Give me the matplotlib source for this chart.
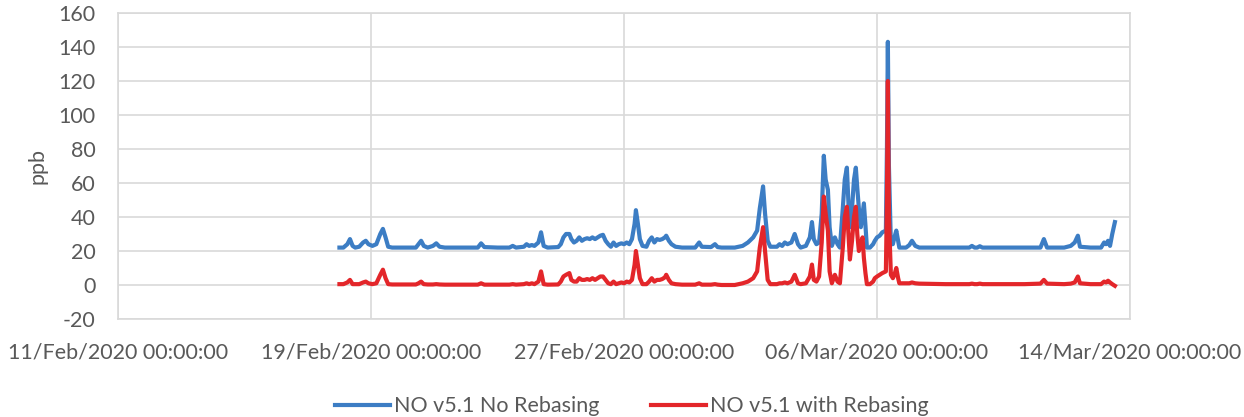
import numpy as np
import pandas as pd
import matplotlib
matplotlib.use("Agg")
import matplotlib.pyplot as plt
import matplotlib.dates as mdates

# Hours since 18/Feb/2020 00:00 and the two NO series (ppb)
hours = [0, 3, 6, 8, 10, 12, 15, 18, 20, 22, 25, 28, 31, 33, 35, 37, 40, 50, 58, 60,
         62, 64, 67, 71, 73.5, 76, 80, 95, 105, 107.5, 110, 120, 129, 131.5, 134, 140,
         142, 144, 146, 148, 151, 153, 155, 158, 166, 168, 170, 172, 174.5, 176, 178,
         180, 182, 184, 186, 188, 190, 192, 194, 196, 198, 200, 202, 204, 206, 208,
         210, 212, 214, 216, 218, 220, 222, 224, 225, 226.5, 228, 230, 233, 235, 237,
         239, 241, 243, 245, 247, 248, 250, 252, 255, 260, 270, 273, 275, 282, 285,
         287, 290, 300, 306, 310, 314, 317, 319, 321.5, 323, 325, 327, 332, 334, 336,
         338, 340, 343, 345.5, 348, 350, 354, 357, 358.6, 360, 362, 364, 366, 367.6,
         369, 370.7, 372, 373.7, 376, 378, 379.8, 382, 383.5, 385.1, 386.3, 387.4,
         389, 390.5, 391.9, 393, 394.2, 395.7, 397, 398, 399.2, 400.3, 402.6, 405,
         406.3, 408, 410, 412, 414.7, 415.5, 416.2, 417, 418.5, 420, 421.2, 422.6,
         424, 424.9, 430, 432.5, 434.5, 437, 440, 460, 478, 480, 482, 484, 486, 488,
         500, 520, 532, 534.6, 537, 550, 555, 558, 560.4, 562, 570, 578, 580.3, 581.8,
         583.3, 584.8, 586.5, 588.5]

no_rebase = [22, 22, 24, 27, 23, 22, 22.5, 25, 26, 24, 23, 24, 30, 33, 28, 22.5, 22, 22,
             22, 24, 26, 23, 22, 23, 24.5, 22.5, 22, 22, 22, 24.5, 22.3, 22, 22, 23, 22,
             22.5, 24, 23, 23.5, 23, 25, 31, 23, 22, 22.3, 24, 28, 30, 30, 27, 25, 26, 28,
             26, 27, 27.5, 27, 28, 27, 28, 29, 29.5, 26, 24, 22.5, 25, 23, 24, 24.5, 24,
             25, 24, 27, 36, 44, 36, 27, 23, 22.5, 26, 28, 25, 27, 26.5, 27, 28, 29, 26,
             24, 22.5, 22, 22, 25, 22.5, 22.3, 24, 22.3, 22, 22, 23, 25, 28, 32, 45, 58,
             42, 26, 22.5, 22.5, 24, 23, 25, 24, 25, 30, 24, 22, 23, 28, 37, 27, 24, 25,
             42, 76, 62, 56, 34, 23, 28, 24, 22, 45, 62, 69, 48, 34, 45, 62, 69, 57, 45,
             34, 42, 48, 35, 22, 22, 24, 26, 28, 29, 31, 32, 80, 143, 70, 24, 24, 28, 32,
             26, 22, 22, 23.5, 26, 23, 22, 22, 22, 23, 22, 22, 22.8, 22, 22, 22, 22, 27,
             22, 22, 23, 25, 29, 22.5, 22, 22, 25, 24, 26, 23, 30, 37]

with_rebase = [0.5, 0.5, 1.5, 3, 0.5, 0.5, 0.5, 1.5, 2, 1, 0.5, 1, 6, 9, 4, 0.5, 0.3,
               0.3, 0.3, 1, 2, 0.5, 0.3, 0.3, 0.5, 0.3, 0.2, 0.2, 0.2, 1, 0.2, 0.2, 0.2,
               0.5, 0.2, 0.5, 1, 0.5, 1, 0.5, 2, 8, 0.5, 0.2, 0.3, 2, 5, 6, 7, 3, 2, 2,
               4, 3, 3, 3.5, 3, 4, 3, 4, 5, 5, 3, 1, 0.5, 2, 0.5, 1, 1.5, 1, 2, 1.5, 3,
               12, 20, 12, 4, 0.5, 0.5, 2, 4, 2, 3, 3, 3.5, 4.5, 6, 3, 1, 0.5, 0.2, 0.2,
               1, 0.2, 0.2, 0.5, 0.2, 0, 0, 1, 2, 4, 8, 22, 34, 20, 3, 0.5, 0.5, 1, 1,
               1.5, 1, 2, 6, 1, 0.5, 1, 5, 12, 3, 2, 5, 25, 52, 42, 32, 8, 1, 6, 2, 1,
               22, 40, 46, 30, 15, 26, 40, 46, 30, 20, 24, 28, 16, 7, 0.5, 0.5, 2, 4, 5,
               6, 7, 8, 50, 120, 40, 6, 4, 6, 10, 4, 1, 1, 1, 1.5, 1, 0.8, 0.5, 0.5, 0.8,
               0.5, 0.5, 0.8, 0.5, 0.5, 0.5, 0.8, 3, 0.8, 0.5, 0.8, 1.5, 5, 1, 0.5, 0.5,
               2, 1.5, 2.5, 1.5, 0.5, -0.5]

labels = ["NO v5.1 No Rebasing", "NO v5.1 with Rebasing"]

start = pd.Timestamp("2020-02-18 00:00")
times = start + pd.to_timedelta(hours, unit="h")

plt.rcParams["font.family"] = ["Lato", "DejaVu Sans"]
plt.rcParams["axes.unicode_minus"] = False
grey = "#595959"
fs = 15.5

fig = plt.figure(figsize=(12.44, 4.17), dpi=100)
ax = fig.add_axes([0.0949, 0.235, 0.8135, 0.734])

ax.plot(times, no_rebase, color="#3C7DC4", lw=3.0, label=labels[0], solid_joinstyle="round")
ax.plot(times, with_rebase, color="#E3262A", lw=3.0, label=labels[1], solid_joinstyle="round")

ax.set_xlim(pd.Timestamp("2020-02-11"), pd.Timestamp("2020-03-14"))
ax.set_ylim(-20, 160)
ax.set_yticks(np.arange(-20, 161, 20))
ax.set_xticks(pd.date_range("2020-02-11", "2020-03-14", freq="8D"))
ax.xaxis.set_major_formatter(mdates.DateFormatter("%d/%b/%Y %H:%M:%S"))

ax.grid(True, color="#D9D9D9", lw=1.2)
ax.set_axisbelow(True)
for s in ax.spines.values():
    s.set_color("#D9D9D9")
    s.set_linewidth(1.2)
ax.tick_params(axis="both", length=0, labelsize=fs, colors=grey)
ax.tick_params(axis="x", pad=17)
ax.tick_params(axis="y", pad=16)
ax.set_ylabel("ppb", fontsize=fs, color=grey, labelpad=8)

fig.legend(loc="lower center", bbox_to_anchor=(0.508, -0.045), ncol=2, frameon=False,
           fontsize=fs, handlelength=2.55, columnspacing=2.4, handletextpad=0.2,
           labelcolor=grey)

fig.savefig("out.png", dpi=100)
